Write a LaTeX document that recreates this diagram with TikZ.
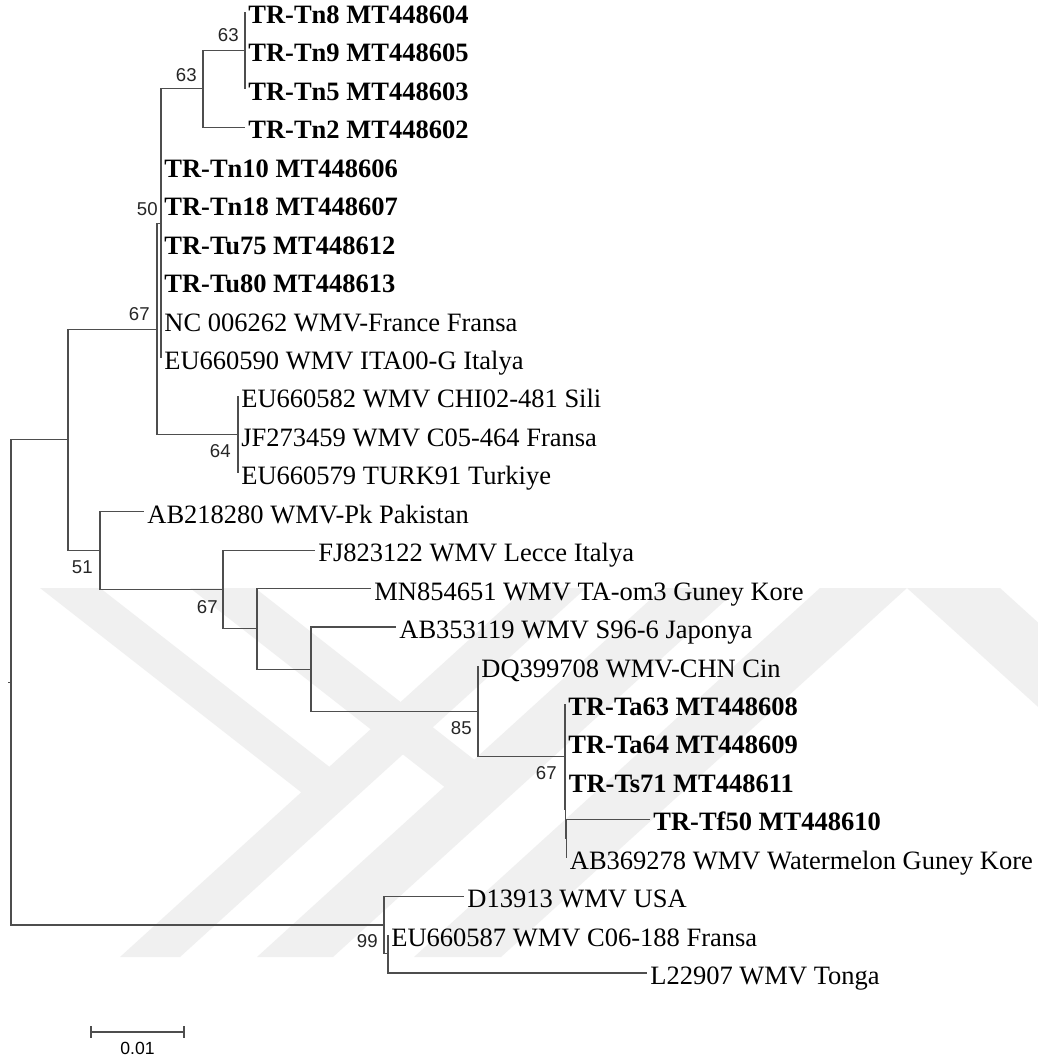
\documentclass[tikz,border=0pt]{standalone}
\usepackage{fontspec}
\setmainfont{Liberation Serif}
\newfontfamily\bootfont{Liberation Sans}
\usepackage{tikz}
\usetikzlibrary{positioning}
\definecolor{branchgray}{HTML}{4E4E4E}
\definecolor{markgray}{HTML}{F0F0F0}
\tikzset{
  branch/.style={draw=branchgray, line width=0.55pt},
  leaf/.style={anchor=west, inner xsep=1.5pt, inner ysep=0pt,
    text height=12.5pt, text depth=1pt, font=\fontsize{13.25}{15}\selectfont},
  trleaf/.style={leaf, font=\fontsize{13.25}{15}\selectfont\bfseries},
  boot/.style={anchor=east, inner sep=0pt, text=black!85,
    font=\bootfont\fontsize{9.3}{10}\selectfont},
  wmark/.style={fill=markgray, draw=none},
}

\begin{document}
\begin{tikzpicture}[x=0.5pt, y=-0.5pt]
    \fill[white] (0,0) rectangle (1038,1062);
    \useasboundingbox (0,0) rectangle (1038,1062);

    % faint watermark behind the tree
    \fill[wmark] (40,588) -- (100,588) -- (336,772) -- (306,796) -- cycle;
    \fill[wmark] (120,957) -- (180,957) -- (586,588) -- (526,588) -- cycle;
    \fill[wmark] (190,588) -- (255,588) -- (481,765) -- (451,792) -- cycle;
    \fill[wmark] (257,957) -- (333,957) -- (739,588) -- (663,588) -- cycle;
    \fill[wmark] (414,957) -- (501,957) -- (907,588) -- (820,588) -- cycle;
    \fill[wmark] (907,588) -- (1000,588) -- (1140,715) -- (1047,715) -- cycle;

    % inner nodes
    \coordinate (rootstub) at (8,682.5);
    \coordinate (root) at (11,682.5);
    \coordinate (a) at (68,439.9);
    \coordinate (c) at (157,329.1);
    \coordinate (e) at (161,223.4);
    \coordinate (f) at (203,88.9);
    \coordinate (g) at (245,50.4);
    \coordinate (d) at (238,434.8);
    \coordinate (b) at (100,550.6);
    \coordinate (h) at (223,589.5);
    \coordinate (i) at (257,628.8);
    \coordinate (j) at (311,669.05);
    \coordinate (k) at (478,711.1);
    \coordinate (l) at (565,756.8);
    \coordinate (m) at (565.5,809.6);
    \coordinate (q) at (566.5,838.5);
    \coordinate (n) at (384,925);
    \coordinate (o) at (388,953.8);

    % leaves
    \node[trleaf] (tn8) at (245,12) {TR-Tn8 MT448604};
    \node[trleaf] (tn9) at (245,50.4) {TR-Tn9 MT448605};
    \node[trleaf] (tn5) at (245,88.9) {TR-Tn5 MT448603};
    \node[trleaf] (tn2) at (245,127.3) {TR-Tn2 MT448602};
    \node[trleaf] (tn10) at (161,165.8) {TR-Tn10 MT448606};
    \node[trleaf] (tn18) at (161,204.2) {TR-Tn18 MT448607};
    \node[trleaf] (tu75) at (161,242.6) {TR-Tu75 MT448612};
    \node[trleaf] (tu80) at (161,281.1) {TR-Tu80 MT448613};
    \node[leaf] (nc262) at (161,319.5) {NC 006262 WMV-France Fransa};
    \node[leaf] (eu590) at (161,358) {EU660590 WMV ITA00-G Italya};
    \node[leaf] (eu582) at (238,396.4) {EU660582 WMV CHI02-481 Sili};
    \node[leaf] (jf459) at (238,434.8) {JF273459 WMV C05-464 Fransa};
    \node[leaf] (eu579) at (238,473.3) {EU660579 TURK91 Turkiye};
    \node[leaf] (ab280) at (144,511.7) {AB218280 WMV-Pk Pakistan};
    \node[leaf] (fj122) at (315,550.2) {FJ823122 WMV Lecce Italya};
    \node[leaf] (mn651) at (371,588.6) {MN854651 WMV TA-om3 Guney Kore};
    \node[leaf] (ab119) at (396,627) {AB353119 WMV S96-6 Japonya};
    \node[leaf] (dq708) at (478,665.5) {DQ399708 WMV-CHN Cin};
    \node[trleaf] (ta63) at (565,703.9) {TR-Ta63 MT448608};
    \node[trleaf] (ta64) at (565,742.4) {TR-Ta64 MT448609};
    \node[trleaf] (ts71) at (565.5,780.8) {TR-Ts71 MT448611};
    \node[trleaf] (tf50) at (650,819.2) {TR-Tf50 MT448610};
    \node[leaf] (ab278) at (566.5,857.7) {AB369278 WMV Watermelon Guney Kore};
    \node[leaf] (d13913) at (464,896.1) {D13913 WMV USA};
    \node[leaf] (eu587) at (388,934.6) {EU660587 WMV C06-188 Fransa};
    \node[leaf] (l22907) at (647,973) {L22907 WMV Tonga};

    % branches
    \draw[branch] (rootstub) -- (root);
    \draw[branch] (root) |- (a);
    \draw[branch] (root) |- (n);
    \draw[branch] (a) |- (c);
    \draw[branch] (a) |- (b);
    \draw[branch] (c) |- (e);
    \draw[branch] (c) |- (d);
    \draw[branch] (e) |- (f);
    \draw[branch] (f) |- (g);
    \draw[branch] (f) |- (tn2.west);
    \draw[branch] (g) |- (tn8.west);
    \draw[branch] (g) |- (tn5.west);
    \draw[branch] (e) |- (tn10.west);
    \draw[branch] (e) |- (eu590.west);
    \draw[branch] (d) |- (eu582.west);
    \draw[branch] (d) |- (eu579.west);
    \draw[branch] (b) |- (ab280.west);
    \draw[branch] (b) |- (h);
    \draw[branch] (h) |- (fj122.west);
    \draw[branch] (h) |- (i);
    \draw[branch] (i) |- (mn651.west);
    \draw[branch] (i) |- (j);
    \draw[branch] (j) |- (ab119.west);
    \draw[branch] (j) |- (k);
    \draw[branch] (k) |- (dq708.west);
    \draw[branch] (k) |- (l);
    \draw[branch] (l) |- (ta63.west);
    \draw[branch] (l) |- (m);
    \draw[branch] (m) |- (ts71.west);
    \draw[branch] (m) |- (q);
    \draw[branch] (q) |- (tf50.west);
    \draw[branch] (q) |- (ab278.west);
    \draw[branch] (n) |- (d13913.west);
    \draw[branch] (n) |- (o);
    \draw[branch] (o) |- (eu587.west);
    \draw[branch] (o) |- (l22907.west);

    % bootstrap values
    \node[boot] (bsg) at ([shift={(-6,-15)}]g) {63};
    \node[boot] (bsf) at ([shift={(-6,-14)}]f) {63};
    \node[boot] (bse) at ([shift={(-3,-14)}]e) {50};
    \node[boot] (bsc) at ([shift={(-7,-15)}]c) {67};
    \node[boot] (bsd) at ([shift={(-7,16)}]d) {64};
    \node[boot] (bsb) at ([shift={(-7,17)}]b) {51};
    \node[boot] (bsh) at ([shift={(-5,17.5)}]h) {67};
    \node[boot] (bsk) at ([shift={(-6,17)}]k) {85};
    \node[boot] (bsl) at ([shift={(-8,16)}]l) {67};
    \node[boot] (bsn) at ([shift={(-6,16)}]n) {99};

    % scale bar
    \coordinate (sbl) at (91,1032);
    \coordinate (sbr) at (184,1032);
    \draw[branch] (sbl) -- (sbr);
    \draw[branch] ([yshift=3pt]sbl) -- ([yshift=-3pt]sbl);
    \draw[branch] ([yshift=3pt]sbr) -- ([yshift=-3pt]sbr);
    \node[inner sep=0pt, font=\bootfont\fontsize{8.8}{10}\selectfont] (sblabel)
      at (137.5,1048) {0.01};
\end{tikzpicture}
\end{document}
